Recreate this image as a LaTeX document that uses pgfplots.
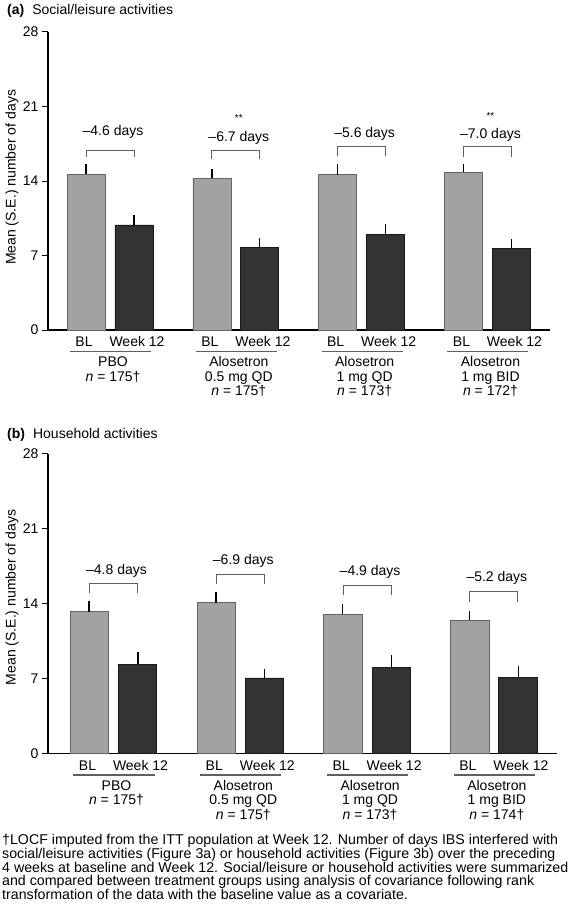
\documentclass[border=0pt]{standalone}
\usepackage{fontspec}
\setmainfont{Liberation Sans}
\usepackage{pgfplots}
\usepackage{pgfplotstable}
\pgfplotsset{compat=1.18}

\definecolor{lightbar}{RGB}{162,162,162}
\definecolor{lightedge}{RGB}{100,100,100}
\definecolor{darkbar}{RGB}{50,50,50}
\definecolor{darkedge}{RGB}{25,25,25}
\definecolor{annot}{RGB}{95,95,95}

% Panel (a): Social/leisure activities
\pgfplotstableread{
x y e
1 14.63 0.97
2 14.26 0.90
3 14.60 0.97
4 14.82 0.81
}\topBL
\pgfplotstableread{
x y e
1 9.87 0.94
2 7.77 0.90
3 8.99 1.00
4 7.68 0.87
}\topWK
% Panel (b): Household activities
\pgfplotstableread{
x y e
1 13.23 1.00
2 14.07 1.03
3 13.02 0.93
4 12.43 0.87
}\botBL
\pgfplotstableread{
x y e
1 8.33 1.12
2 7.05 0.86
3 8.07 1.10
4 7.14 1.00
}\botWK

\newcommand{\fs}{\fontsize{14pt}{14.5pt}\selectfont}
\newcommand{\fc}{\fontsize{14.2pt}{13.75pt}\selectfont}

\pgfplotsset{
  panel/.style={
    scale only axis, clip=false,
    axis x line*=bottom, axis y line*=left,
    axis line style={-, line width=1.2pt, black},
    every outer x axis line/.append style={-},
    every outer y axis line/.append style={-},
    ymin=0, ymax=28, ytick={0,7,14,21,28}, xtick=\empty,
    tick align=outside, major tick length=6pt,
    tick style={line width=1pt, black},
    /pgf/number format/assume math mode=true,
    yticklabel style={font=\fs},
    ylabel={Mean (S.E.) number of days},
    ylabel style={font=\fs, anchor=center},
  },
  blbar/.style={ybar, bar width=0.302, bar shift=-0.19, fill=lightbar, draw=lightedge, line width=0.8pt},
  wkbar/.style={ybar, bar width=0.302, bar shift=0.19, fill=darkbar, draw=darkedge, line width=0.8pt},
  errs/.style={no markers, draw=none, forget plot,
    error bars/.cd, y dir=plus, y explicit, error mark=none,
    error bar style={draw=black, line width=1.4pt}},
}

% bracket: x, text baseline, top, legs, label
\newcommand{\annot}[5]{%
  \draw[annot, line width=0.9pt] ([xshift=-24pt]axis cs:#1,#4) -- ([xshift=-24pt]axis cs:#1,#3)
     -- ([xshift=24pt]axis cs:#1,#3) -- ([xshift=24pt]axis cs:#1,#4);
  \node[anchor=base, font=\fs, inner sep=0] at ([xshift=3pt]axis cs:#1,#2) {#5};
}
% group labels under axis
\newcommand{\glab}[4]{%
  \node[anchor=base, font=\fs, inner sep=0] at ([xshift=-26pt,yshift=-16.5pt]axis cs:#1,0) {BL};
  \node[anchor=base, font=\fs, inner sep=0] at ([xshift=27pt,yshift=-16.5pt]axis cs:#1,0) {Week 12};
  \draw[annot, line width=1.4pt] ([xshift=-40pt,yshift=-21.5pt]axis cs:#1,0) -- ([xshift=41pt,yshift=-21.5pt]axis cs:#1,0);
  \node[anchor=base, font=\fs, inner sep=0] at ([xshift=3pt,yshift=-36.5pt]axis cs:#1,0) {#2};
  \node[anchor=base, font=\fs, inner sep=0] at ([xshift=3pt,yshift=-51pt]axis cs:#1,0) {#3};
  \node[anchor=base, font=\fs, inner sep=0] at ([xshift=3pt,yshift=-65.5pt]axis cs:#1,0) {#4};
}

\begin{document}
\begin{tikzpicture}[x=1pt,y=1pt]
\useasboundingbox (0,0) rectangle (576,-915);

\node[anchor=base west, inner sep=0, font=\fs] at (7,-15) {\textbf{(a)}\hspace{8pt}Social/leisure activities};

\begin{axis}[panel, at={(48pt,-330pt)}, anchor=south west, width=502pt, height=298pt,
  xmin=0.507, xmax=4.497,
  ylabel style={at={(axis description cs:-0.0717,0.512)}}]
\addplot[blbar] table[x=x, y=y] {\topBL};
\addplot[wkbar] table[x=x, y=y] {\topWK};
\addplot[errs] table[x expr=\thisrow{x}-0.19, y=y, y error=e] {\topBL};
\addplot[errs] table[x expr=\thisrow{x}+0.19, y=y, y error=e] {\topWK};
\annot{1}{18.23}{16.9}{16.3}{\textendash4.6 days}
\annot{2}{17.73}{16.9}{16.1}{\textendash6.7 days}
\annot{3}{18.13}{17.2}{16.35}{\textendash5.6 days}
\annot{4}{18.03}{17.2}{16.3}{\textendash7.0 days}
\node[font=\fontsize{10pt}{10pt}\selectfont, inner sep=0] at ([xshift=3pt]axis cs:2,19.9) {**};
\node[font=\fontsize{10pt}{10pt}\selectfont, inner sep=0] at ([xshift=3pt]axis cs:4,20.1) {**};
\glab{1}{PBO}{\textit{n} = 175\textdagger}{}
\glab{2}{Alosetron}{0.5 mg QD}{\textit{n} = 175\textdagger}
\glab{3}{Alosetron}{1 mg QD}{\textit{n} = 173\textdagger}
\glab{4}{Alosetron}{1 mg BID}{\textit{n} = 172\textdagger}
\end{axis}

\node[anchor=base west, inner sep=0, font=\fs] at (7,-438) {\textbf{(b)}\hspace{8pt}Household activities};

\begin{axis}[panel, at={(48pt,-753.5pt)}, anchor=south west, width=509pt, height=300pt,
  xmin=0.4834, xmax=4.498,
  ylabel style={at={(axis description cs:-0.0707,0.52)}}]
\addplot[blbar] table[x=x, y=y] {\botBL};
\addplot[wkbar] table[x=x, y=y] {\botWK};
\addplot[errs] table[x expr=\thisrow{x}-0.193, y=y, y error=e] {\botBL};
\addplot[errs] table[x expr=\thisrow{x}+0.193, y=y, y error=e] {\botWK};
\annot{1}{16.73}{15.9}{14.95}{\textendash4.8 days}
\annot{2}{17.63}{16.75}{15.8}{\textendash6.9 days}
\annot{3}{16.58}{15.66}{14.8}{\textendash4.9 days}
\annot{4}{16.03}{15.1}{14.17}{\textendash5.2 days}
\glab{1}{PBO}{\textit{n} = 175\textdagger}{}
\glab{2}{Alosetron}{0.5 mg QD}{\textit{n} = 175\textdagger}
\glab{3}{Alosetron}{1 mg QD}{\textit{n} = 173\textdagger}
\glab{4}{Alosetron}{1 mg BID}{\textit{n} = 174\textdagger}
\end{axis}

\node[anchor=base west, inner sep=0, font=\fc] at (2,-844.5) {\textdagger LOCF imputed from the ITT population at Week 12. Number of days IBS interfered with};
\node[anchor=base west, inner sep=0, font=\fc] at (2,-858.25) {social/leisure activities (Figure 3a) or household activities (Figure 3b) over the preceding};
\node[anchor=base west, inner sep=0, font=\fc] at (2,-872) {4 weeks at baseline and Week 12. Social/leisure or household activities were summarized};
\node[anchor=base west, inner sep=0, font=\fc] at (2,-885.75) {and compared between treatment groups using analysis of covariance following rank};
\node[anchor=base west, inner sep=0, font=\fc] at (2,-899.5) {transformation of the data with the baseline value as a covariate.};
\end{tikzpicture}
\end{document}
